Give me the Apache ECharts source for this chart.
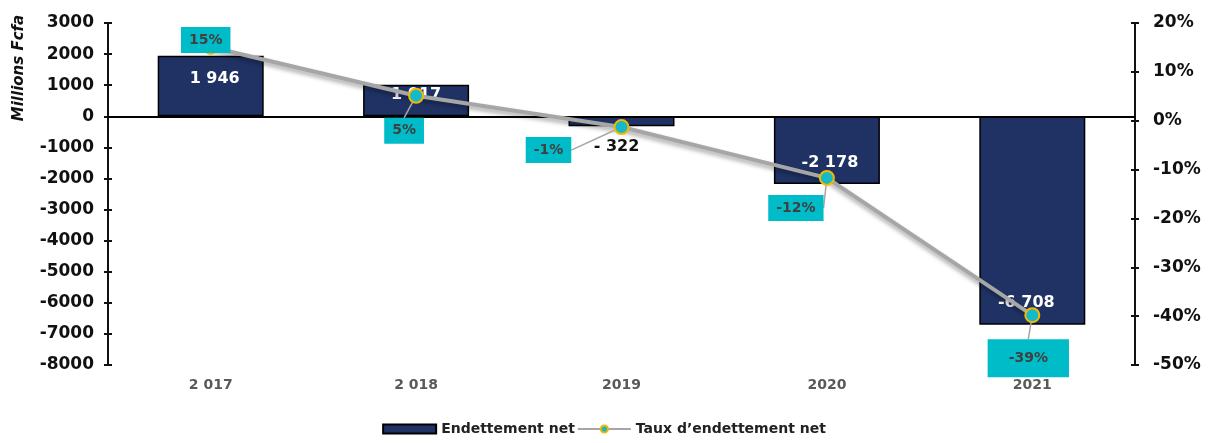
<!DOCTYPE html>
<html>
<head>
<meta charset="utf-8">
<script src="https://cdn.jsdelivr.net/npm/echarts@6/dist/echarts.min.js"></script>
<style>
  html, body { margin: 0; padding: 0; background: #fff; }
  #main { width: 1208px; height: 443px; }
</style>
</head>
<body>
<div id="main"></div>
<script>
var years = ['2 017', '2 018', '2019', '2020', '2021'];
var endettement = [1946, 1017, -322, -2178, -6708];
var endettementLabels = ['1 946', '1 017', '- 322', '-2 178', '-6 708'];
var taux = [15.1, 5.1, -1.3, -11.7, -39.8];
var tauxLabels = ['15%', '5%', '-1%', '-12%', '-39%'];

var FONT = 'DejaVu Sans';

// label offsets for bar values (from bar centre)
var barLabelOffsets = [[4, -7], [0, -6], [-5, 26], [3, 13], [-6, 82]];
var barLabelColors = ['#fff', '#fff', '#111', '#fff', '#fff'];
// label moves for the rate boxes (from point)
var rateLabelMoves = [[-5, -7], [-12, 35], [-73, 23], [-31, 30], [-4, 43]];

var chart = echarts.init(document.getElementById('main'));

var barData = endettement.map(function (v, i) {
    return {
        value: v,
        label: {
            show: true,
            position: 'inside',
            offset: barLabelOffsets[i],
            color: barLabelColors[i],
            formatter: endettementLabels[i]
        }
    };
});

var rateData = taux.map(function (v, i) {
    if (i === taux.length - 1) {
        return { value: v, label: { padding: [12, 21] } };
    }
    return v;
});

var axisFont = { color: '#111', fontFamily: FONT, fontWeight: 'bold', fontSize: 17 };
var tickStyle = { color: '#111', width: 2 };

var option = {
    animation: false,
    grid: { left: 108, right: 73, top: 23, bottom: 78, outerBoundsMode: 'none' },
    legend: {
        bottom: 2,
        left: 'center',
        itemGap: 2,
        itemWidth: 53,
        itemHeight: 9,
        textStyle: { fontFamily: FONT, fontWeight: 'bold', fontSize: 14, color: '#222' },
        data: [
            { name: 'Endettement net', icon: 'rect' },
            { name: 'Taux d\u2019endettement net' }
        ]
    },
    graphic: [{
        type: 'text',
        x: 19,
        y: 68,
        rotation: Math.PI / 2,
        style: {
            text: 'Millions Fcfa',
            font: 'italic bold 15px ' + FONT,
            fill: '#111',
            align: 'center',
            verticalAlign: 'middle'
        }
    }],
    xAxis: {
        type: 'category',
        data: years,
        axisLine: { show: false },
        axisTick: { show: false },
        axisLabel: { margin: 13, color: '#595959', fontFamily: FONT, fontWeight: 'bold', fontSize: 14 }
    },
    yAxis: [{
        type: 'value',
        min: -8000,
        max: 3000,
        interval: 1000,
        splitLine: { show: false },
        axisLine: { show: true, lineStyle: tickStyle },
        axisTick: { show: true, length: 4, lineStyle: tickStyle },
        axisLabel: Object.assign({ margin: 14, formatter: function (v) { return String(v); } }, axisFont)
    }, {
        type: 'value',
        position: 'right',
        min: -50,
        max: 20,
        interval: 10,
        splitLine: { show: false },
        axisLine: { show: true, lineStyle: tickStyle },
        axisTick: { show: true, length: 4, lineStyle: tickStyle },
        axisLabel: Object.assign({ margin: 18, formatter: '{value}%' }, axisFont)
    }, {
        type: 'value',
        position: 'left',
        min: -8000,
        max: 3000,
        interval: 1000,
        splitLine: { show: false },
        axisLine: { show: false },
        axisTick: { show: true, inside: true, length: 4, lineStyle: tickStyle },
        axisLabel: { show: false }
    }, {
        type: 'value',
        position: 'right',
        min: -50,
        max: 20,
        interval: 10,
        splitLine: { show: false },
        axisLine: { show: false },
        axisTick: { show: true, inside: true, length: 4, lineStyle: tickStyle },
        axisLabel: { show: false }
    }],
    series: [{
        name: 'Endettement net',
        type: 'bar',
        barWidth: 106,
        yAxisIndex: 0,
        itemStyle: { color: '#1F3263', borderColor: '#000', borderWidth: 1.5 },
        label: { fontFamily: FONT, fontWeight: 'bold', fontSize: 16 },
        data: barData,
        markLine: {
            silent: true,
            symbol: 'none',
            label: { show: false },
            lineStyle: { color: '#000', width: 2, type: 'solid' },
            data: [{ yAxis: 0 }]
        },
        z: 2
    }, {
        name: 'Taux d\u2019endettement net',
        type: 'line',
        yAxisIndex: 1,
        data: rateData,
        symbol: 'circle',
        symbolSize: 14,
        lineStyle: {
            color: '#A6A6A6', width: 4,
            shadowColor: 'rgba(0,0,0,0.35)', shadowBlur: 4, shadowOffsetY: 3
        },
        itemStyle: { color: '#16B9C8', borderColor: '#F5B800', borderWidth: 2 },
        label: {
            show: true,
            position: 'inside',
            formatter: function (p) { return tauxLabels[p.dataIndex]; },
            backgroundColor: '#00BCC8',
            color: '#404040',
            fontFamily: FONT,
            fontWeight: 'bold',
            fontSize: 14,
            padding: [6, 8]
        },
        labelLine: { show: true, lineStyle: { color: '#A6A6A6', width: 1.5 } },
        labelLayout: function (p) {
            var m = rateLabelMoves[p.dataIndex];
            return { dx: m[0], dy: m[1] };
        },
        z: 5
    }]
};

chart.setOption(option);
</script>
</body>
</html>
